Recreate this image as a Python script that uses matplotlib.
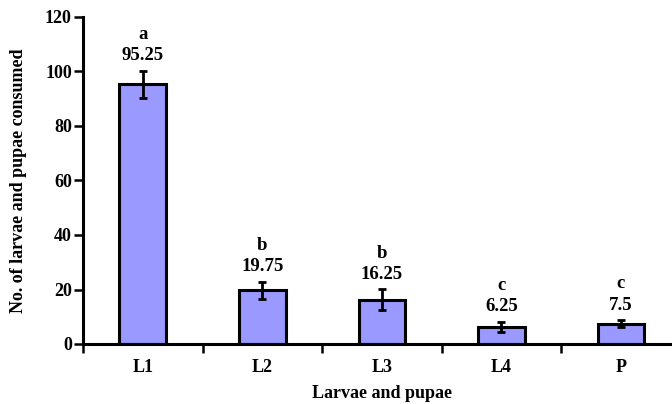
import matplotlib
matplotlib.use("Agg")
import matplotlib.pyplot as plt
import numpy as np

categories = ["L1", "L2", "L3", "L4", "P"]
means = [95.25, 19.75, 16.25, 6.25, 7.5]
errors = [5.0, 3.1, 3.8, 1.85, 1.3]
letters = ["a", "b", "b", "c", "c"]
value_labels = ["95.25", "19.75", "16.25", "6.25", "7.5"]
yticks = [0, 20, 40, 60, 80, 100, 120]

plt.rcParams['font.family'] = ['Liberation Serif', 'DejaVu Serif']
plt.rcParams['font.weight'] = 'bold'

fig = plt.figure(figsize=(6.72, 4.04), dpi=100)
ax = fig.add_axes([83 / 672, 1 - 344 / 404, 1 - 83 / 672, (344 - 17) / 404])

x = np.arange(len(categories))
ax.bar(x, means, width=0.39, color='#9999FF', edgecolor='black', linewidth=2.2, zorder=2)
ax.errorbar(x, means, yerr=errors, fmt='none', ecolor='black', elinewidth=2,
            capsize=3, capthick=2, zorder=3)

for xi, m, e, lt, vl in zip(x, means, errors, letters, value_labels):
    top = m + e
    ax.text(xi, top + 5.5, vl, ha='center', va='center', fontsize=13.5, fontweight='bold')
    ax.text(xi, top + 13.3, lt, ha='center', va='center', fontsize=13.5, fontweight='bold')

ax.set_xlim(-0.5, 4.427)
ax.set_ylim(0, 120)
ax.set_yticks(yticks)
ax.set_xticks(x)
ax.set_xticklabels(categories)
ax.set_xticks(np.arange(-0.5, 4.0, 1.0), minor=True)
ax.tick_params(axis='x', which='major', length=0, pad=11, labelsize=13)
ax.tick_params(axis='x', which='minor', length=6.5, width=1.8, direction='out')
ax.tick_params(axis='y', length=6.5, width=1.8, direction='out', labelsize=13, pad=1.5)

for s in ['top', 'right']:
    ax.spines[s].set_visible(False)
for s in ['left', 'bottom']:
    ax.spines[s].set_linewidth(2.2)

ax.set_xlabel("Larvae and pupae", fontsize=13, fontweight='bold', va='baseline')
ax.xaxis.set_label_coords((382 - 83) / 589, (344 - 398) / 327)
ax.set_ylabel("No. of larvae and pupae consumed", fontsize=13, fontweight='bold')
ax.yaxis.set_label_coords((27 - 83) / 589, 0.5)

fig.savefig("out.png", dpi=100)
